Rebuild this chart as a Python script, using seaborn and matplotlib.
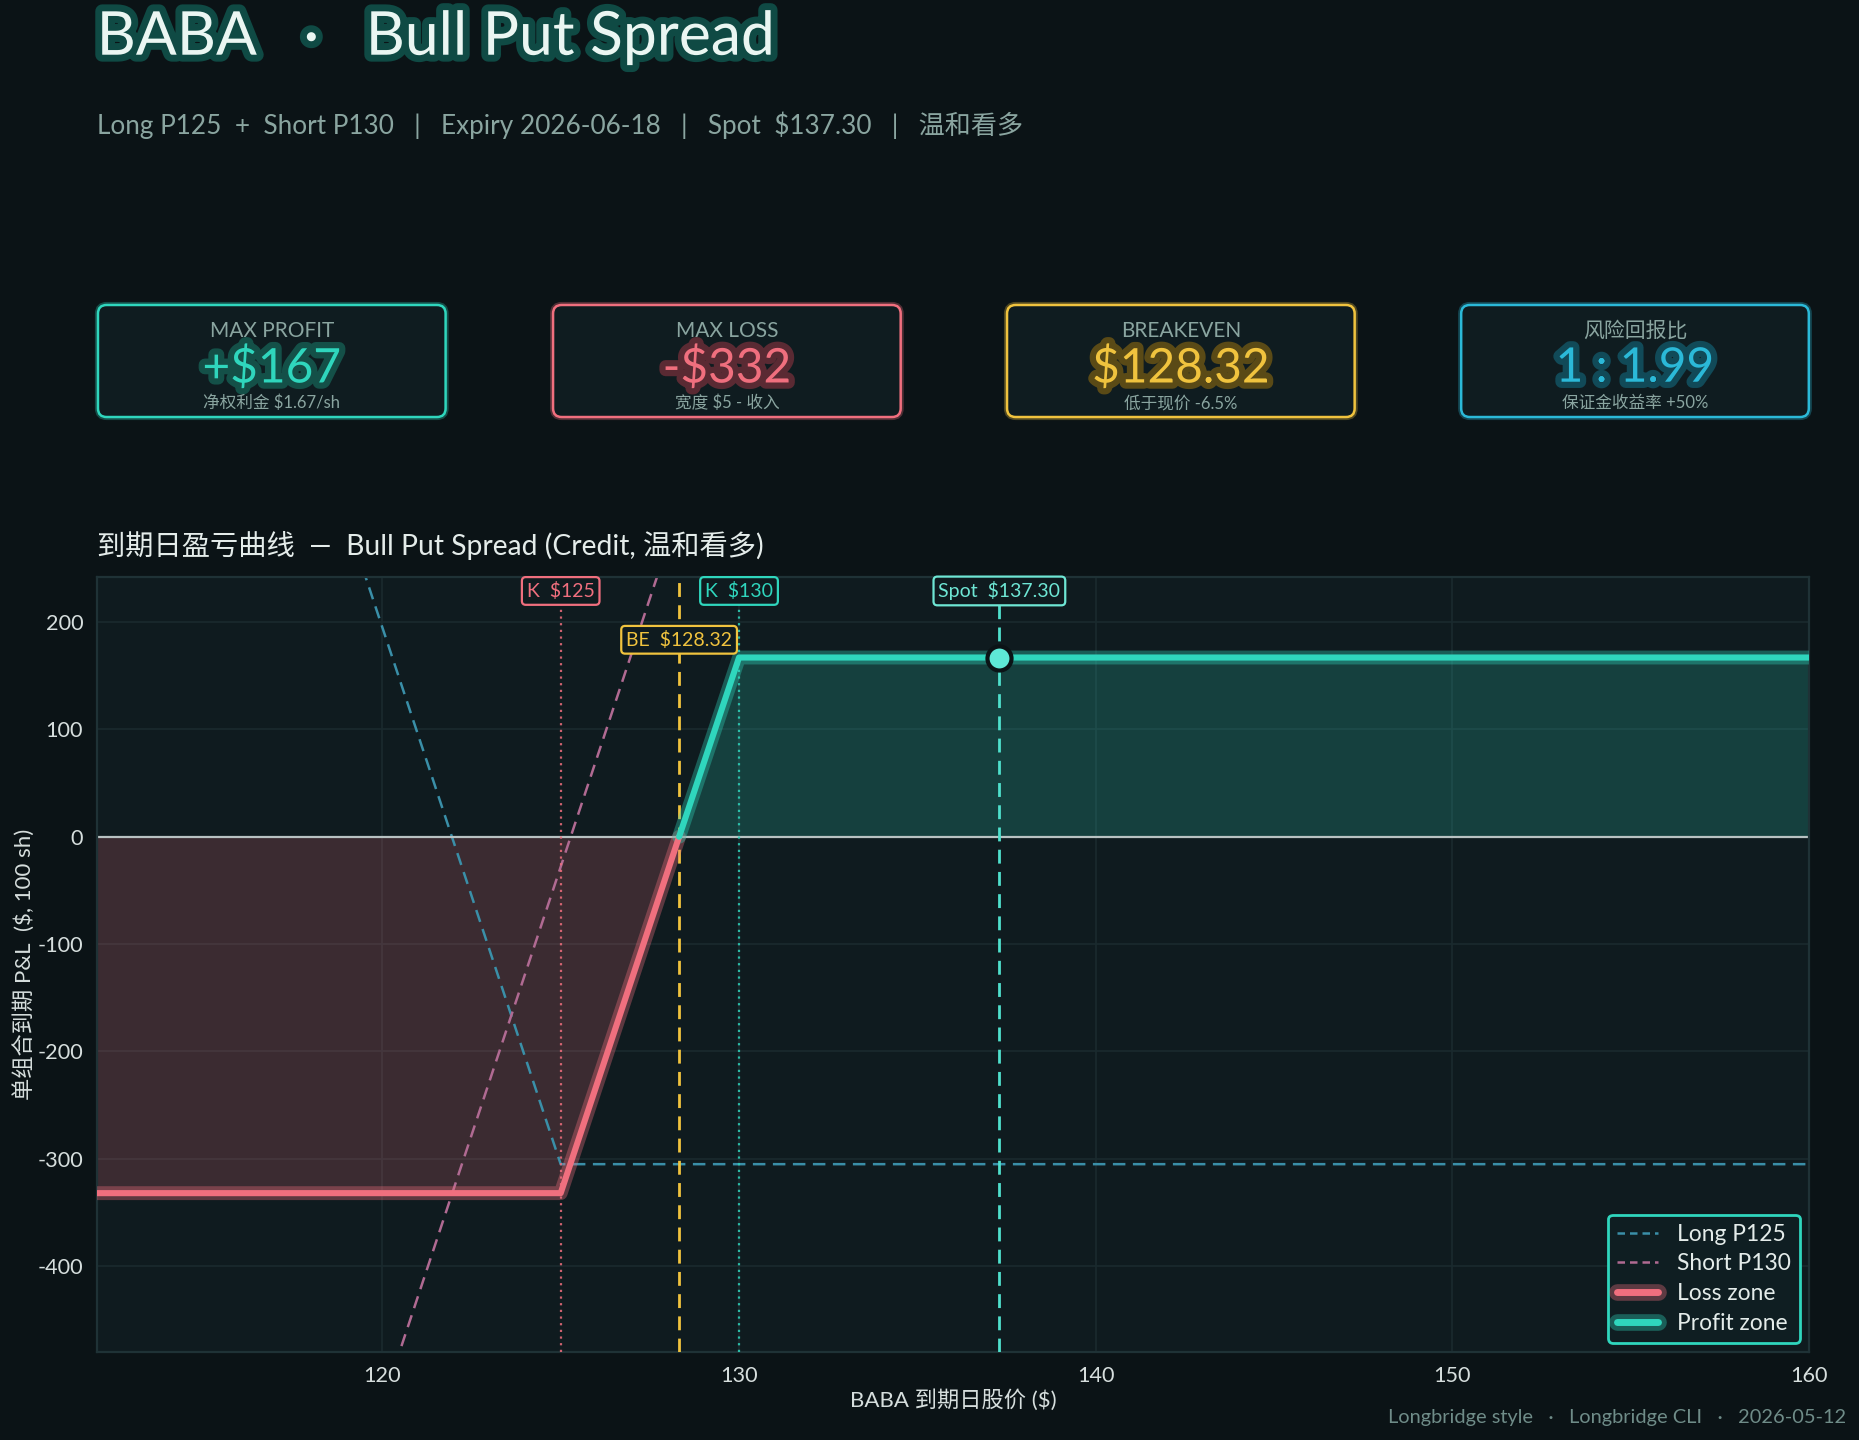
import numpy as np
import pandas as pd
import matplotlib
matplotlib.use("Agg")
import matplotlib.pyplot as plt
import matplotlib.patheffects as pe
from matplotlib.patches import FancyBboxPatch
from matplotlib.lines import Line2D
from matplotlib.legend_handler import HandlerTuple
import seaborn as sns

# ---------------- data ----------------
ticker = "BABA"
strategy = "Bull Put Spread"
long_strike = 125
short_strike = 130
breakeven = 128.32
spot = 137.30
max_profit = 167
max_loss = -332

combo_price = [112, 125, 128.32, 130, 160]
combo_pnl = [-332, -332, 0, 167, 167]
long_leg_price = [112, 125, 160]
long_leg_pnl = [995, -305, -305]
short_leg_price = [112, 130, 160]
short_leg_pnl = [-1328, 472, 472]

x_ticks = [120, 130, 140, 150, 160]
y_ticks = [-400, -300, -200, -100, 0, 100, 200]

card_titles = ["MAX PROFIT", "MAX LOSS", "BREAKEVEN", "风险回报比"]
card_values = ["+$167", "-$332", "$128.32", "1 : 1.99"]
card_notes = ["净权利金 $1.67/sh", "宽度 $5 - 收入", "低于现价 -6.5%", "保证金收益率 +50%"]

# ---------------- style ----------------
BG = "#0b1316"
AX_BG = "#0f1b1f"
TEAL = "#2fd6bd"
PINK = "#f06f7e"
YELLOW = "#f0c33e"
CYAN = "#2bb9d8"
LONG_C = "#3a8fa8"
SHORT_C = "#b06a92"
MUTED = "#8aa5a0"
TXT = "#e4ecea"

sns.set_theme(style="dark", rc={
    "figure.facecolor": BG,
    "axes.facecolor": AX_BG,
    "axes.edgecolor": "#1f3236",
    "grid.color": "#1b2b2f",
    "text.color": TXT,
    "xtick.color": "#d6dedd",
    "ytick.color": "#d6dedd",
    "axes.labelcolor": "#d6dedd",
})
plt.rcParams["font.family"] = ["Lato", "Noto Sans CJK SC", "DejaVu Sans"]
plt.rcParams["axes.unicode_minus"] = False

fig = plt.figure(figsize=(9.295, 7.2), dpi=200)
fig.patch.set_facecolor(BG)

# ---------------- header ----------------
fig.text(0.052, 0.962, f"{ticker}   ·   {strategy}", fontsize=21.8, color="#eaf6f2",
         va="baseline", ha="left",
         path_effects=[pe.withStroke(linewidth=5, foreground="#0f4a44")])
fig.text(0.052, 0.913,
         "Long P125  +  Short P130   |   Expiry 2026-06-18   |   Spot  $137.30   |   温和看多",
         fontsize=9.4, color=MUTED, va="center", ha="left")

# ---------------- cards ----------------
card_colors = [TEAL, PINK, YELLOW, CYAN]
glow_colors = ["#145048", "#5a2a33", "#5a4a16", "#114a58"]
card_x = [0.0527, 0.2975, 0.5417, 0.786]
card_w, card_y, card_h = 0.187, 0.7104, 0.0778
for i in range(4):
    cax = fig.add_axes([card_x[i], card_y, card_w, card_h])
    cax.set_axis_off()
    cax.set_xlim(0, 1); cax.set_ylim(0, 1)
    asp = (card_w * 1859) / (card_h * 1440)
    for lw, al in [(2.2, 0.3), (0.9, 1.0)]:
        box = FancyBboxPatch((0.0, 0.0), 1.0, 1.0,
                             boxstyle="round,pad=0,rounding_size=0.025",
                             mutation_aspect=asp,
                             facecolor="#0f1c20" if al == 1.0 else "none",
                             edgecolor=card_colors[i], linewidth=lw, alpha=al,
                             transform=cax.transAxes, clip_on=False)
        cax.add_patch(box)
    cax.text(0.5, 0.77, card_titles[i], ha="center", va="center",
             fontsize=7.5, color=MUTED, transform=cax.transAxes)
    cax.text(0.5, 0.44, card_values[i], ha="center", va="center",
             fontsize=17.2, color=card_colors[i], transform=cax.transAxes,
             path_effects=[pe.withStroke(linewidth=4.5, foreground=glow_colors[i])])
    cax.text(0.5, 0.125, card_notes[i], ha="center", va="center",
             fontsize=6, color=MUTED, transform=cax.transAxes)

# ---------------- chart ----------------
fig.text(0.0522, 0.6215, "到期日盈亏曲线  —  Bull Put Spread (Credit, 温和看多)",
         fontsize=10.2, color=TXT, va="center", ha="left")

ax = fig.add_axes([0.0522, 0.0611, 0.9209, 0.5382])
ax.set_facecolor(AX_BG)
ax.grid(True, color="#1a2a2e", linewidth=0.6)
for s in ax.spines.values():
    s.set_color("#1f3236")
    s.set_linewidth(0.8)

legs = pd.DataFrame({"price": long_leg_price, "pnl": long_leg_pnl})
sns.lineplot(data=legs, x="price", y="pnl", ax=ax, color=LONG_C, lw=0.9,
             linestyle=(0, (5, 3)), legend=False, sort=False)
legs2 = pd.DataFrame({"price": short_leg_price, "pnl": short_leg_pnl})
sns.lineplot(data=legs2, x="price", y="pnl", ax=ax, color=SHORT_C, lw=0.9,
             linestyle=(0, (5, 3)), legend=False, sort=False)

loss = pd.DataFrame({"price": combo_price[:3], "pnl": combo_pnl[:3]})
prof = pd.DataFrame({"price": combo_price[2:], "pnl": combo_pnl[2:]})
ax.fill_between(loss["price"], loss["pnl"], 0, color=PINK, alpha=0.2, lw=0, zorder=1)
ax.fill_between(prof["price"], prof["pnl"], 0, color=TEAL, alpha=0.2, lw=0, zorder=1)

ax.axhline(0, color="#b8c2c2", lw=0.8, zorder=2)

for df, c in [(loss, PINK), (prof, TEAL)]:
    sns.lineplot(data=df, x="price", y="pnl", ax=ax, color=c, lw=5.0, alpha=0.35,
                 legend=False, sort=False, zorder=4)
    sns.lineplot(data=df, x="price", y="pnl", ax=ax, color=c, lw=2.2,
                 legend=False, sort=False, zorder=5)

ax.axvline(long_strike, color=PINK, lw=0.8, linestyle=(0, (1, 2)), alpha=0.85, zorder=3)
ax.axvline(short_strike, color=TEAL, lw=0.8, linestyle=(0, (1, 2)), alpha=0.85, zorder=3)
ax.axvline(breakeven, color=YELLOW, lw=1.0, linestyle=(0, (5, 3)), zorder=3)
ax.axvline(spot, color="#4fe0cc", lw=1.0, linestyle=(0, (5, 3)), zorder=3)

spot_df = pd.DataFrame({"price": [spot], "pnl": [max_profit]})
sns.scatterplot(data=spot_df, x="price", y="pnl", ax=ax, s=75, color="#5ee8d6",
                edgecolor=BG, linewidth=1.5, zorder=7, legend=False)

tr = ax.get_xaxis_transform()
def tag(x, y, s, c):
    ax.text(x, y, s, transform=tr, ha="center", va="center", fontsize=7, color=c,
            zorder=8,
            bbox=dict(boxstyle="round,pad=0.25,rounding_size=0.2", fc=AX_BG, ec=c, lw=0.8))
tag(long_strike, 0.982, "K  $125", PINK)
tag(short_strike, 0.982, "K  $130", TEAL)
tag(spot, 0.982, "Spot  $137.30", "#6ee6d4")
tag(breakeven, 0.919, "BE  $128.32", YELLOW)

ax.set_xlim(112, 160)
ax.set_ylim(-480, 242)
ax.set_xticks(x_ticks)
ax.set_yticks(y_ticks)
ax.tick_params(axis="both", labelsize=7.8, length=3, width=0.8, colors="#d6dedd", pad=2)
ax.set_xlabel("BABA 到期日股价 ($)", fontsize=8, color="#d6dedd", labelpad=1)
ax.set_ylabel("单组合到期 P&L  ($, 100 sh)", fontsize=8, color="#d6dedd", labelpad=0.5)

handles = [
    Line2D([], [], color=LONG_C, lw=0.9, linestyle=(0, (3, 2))),
    Line2D([], [], color=SHORT_C, lw=0.9, linestyle=(0, (3, 2))),
    (Line2D([], [], color=PINK, lw=6, alpha=0.35), Line2D([], [], color=PINK, lw=2.5)),
    (Line2D([], [], color=TEAL, lw=6, alpha=0.35), Line2D([], [], color=TEAL, lw=2.5)),
]
leg = ax.legend(handles, ["Long P125", "Short P130", "Loss zone", "Profit zone"],
                handler_map={tuple: HandlerTuple(ndivide=1, pad=0)},
                loc="lower right", fontsize=8.2, frameon=True, fancybox=True,
                facecolor="#0f1e22", edgecolor=TEAL, framealpha=1,
                labelcolor=TXT, handlelength=1.8, borderpad=0.4, labelspacing=0.38,
                borderaxespad=0, bbox_to_anchor=(0.9945, 0.012))
leg.get_frame().set_linewidth(1.0)

fig.text(0.993, 0.0153, "Longbridge style   ·   Longbridge CLI   ·   2026-05-12",
         ha="right", va="center", fontsize=7.2, color="#6f8c88")

fig.savefig("out.png", dpi=200, facecolor=BG)
